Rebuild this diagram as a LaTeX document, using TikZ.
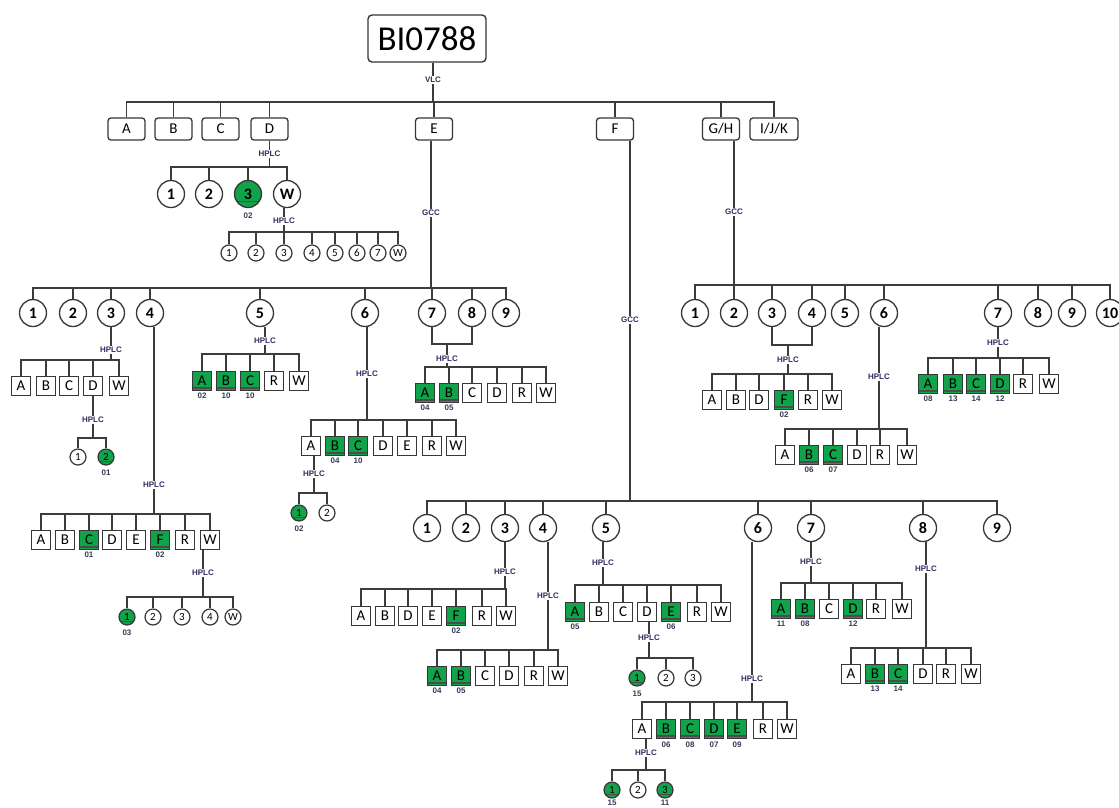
\documentclass[tikz,border=0pt]{standalone}
\usepackage{fontspec}
\setmainfont{Carlito}
\newfontfamily\tagfamily{Liberation Sans}
\definecolor{grn}{RGB}{16,163,74}
\definecolor{linec}{RGB}{60,60,60}
\definecolor{boxc}{RGB}{55,55,55}
\definecolor{labc}{RGB}{50,45,95}
\definecolor{numc}{RGB}{55,60,85}
\tikzset{
 conn/.style={draw=linec,line width=1.3pt},
 rootbox/.style={draw=boxc,line width=1.4pt,rounded corners=4pt,fill=white,minimum width=118pt,minimum height=47pt,inner sep=0pt,font=\fontsize{35}{35}\selectfont},
 topbox/.style={draw=boxc,line width=1.3pt,rounded corners=3pt,fill=white,minimum width=37pt,minimum height=22pt,inner sep=0pt,font=\fontsize{15}{15}\selectfont},
 wb/.style={draw=boxc,line width=1.4pt,fill=white,minimum width=19pt,minimum height=19pt,inner sep=0pt,font=\fontsize{15}{15}\selectfont},
 gb/.style={wb,fill=grn,path picture={\draw[line width=1.1pt,draw=black!70] ([yshift=2.5pt]path picture bounding box.south west) -- ([yshift=2.5pt]path picture bounding box.south east);},label={[num,label distance=1.5pt]below:#1}},
 bc/.style={circle,draw=boxc,line width=1.3pt,fill=white,minimum size=27pt,inner sep=0pt,font=\fontsize{16}{16}\selectfont\bfseries},
 gbc/.style={bc,fill=grn,path picture={\draw[line width=1.1pt,draw=black!70] ([xshift=-20pt,yshift=-7.5pt]path picture bounding box.center) -- ([xshift=20pt,yshift=-7.5pt]path picture bounding box.center);},label={[num,label distance=4pt]below:#1}},
 sc/.style={circle,draw=boxc,line width=1.2pt,fill=white,minimum size=16pt,inner sep=0pt,font=\fontsize{11}{11}\selectfont},
 gsc/.style={sc,fill=grn,path picture={\draw[line width=1pt,draw=black!70] ([xshift=-12pt,yshift=-4.5pt]path picture bounding box.center) -- ([xshift=12pt,yshift=-4.5pt]path picture bounding box.center);},label={[num,label distance=4pt]below:#1}},
 gscb/.style={sc,fill=grn,path picture={\draw[line width=1pt,draw=black!70] ([xshift=-12pt,yshift=-4.5pt]path picture bounding box.center) -- ([xshift=12pt,yshift=-4.5pt]path picture bounding box.center);},label={[num,label distance=0.5pt]below:#1}},
 lab/.style={font=\tagfamily\bfseries\fontsize{8}{8}\selectfont,text=labc,fill=white,inner sep=1pt},
 num/.style={font=\tagfamily\bfseries\fontsize{8}{8}\selectfont,text=numc,inner sep=0.5pt},
}
% #1 parent point, #2 prefix, #3 label y, #4 label, #5 bus y, #6 child y, #7 list x/text/style
\newcommand\kids[7]{%
  \coordinate (#2bus) at (0,#5);
  \coordinate (#2ly) at (0,#3);
  \foreach \cx/\ct/\cs [count=\ci] in {#7} {
    \edef\mknode{\noexpand\node[\cs] (#2k\ci) at (\cx,#6) {\ct};}
    \mknode
    \draw[conn] (#1) -- (#1 |- #2bus) -| (#2k\ci.north);
  }
  \node[lab] (#2lab) at (#1 |- #2ly) {#4};
}
\begin{document}
\begin{tikzpicture}[x=1pt,y=-1pt]
\fill[white] (0,0) rectangle (1119,807);
\useasboundingbox (0,0) rectangle (1119,807);

% root and first level
\node[rootbox] (bi) at (427,38.5) {BI0788};
\node[topbox] (ta) at (126.5,129) {A};
\node[topbox] (tb) at (173.5,129) {B};
\node[topbox] (tc) at (220.5,129) {C};
\node[topbox] (td) at (269.5,129) {D};
\node[topbox] (te) at (434,129) {E};
\node[topbox] (tf) at (615,129) {F};
\node[topbox] (tgh) at (721,129) {G/H};
\node[topbox,minimum width=48pt] (tijk) at (774,129) {I/J/K};
\coordinate (topbus) at (0,102);
\coordinate (rootP) at ([xshift=6pt]bi.south);
\foreach \n in {ta,tb,tc,td,te,tf,tgh,tijk} \draw[conn] (rootP) -- (rootP |- topbus) -| (\n.north);
\node[lab] (vlc) at (433,80) {VLC};

% D branch
\kids{td.south}{td}{154}{HPLC}{167}{194}{171/1/bc, 209/2/bc, 248/3/gbc=02, 287/W/bc}
\coordinate (tdk4P) at ([xshift=-3pt]tdk4.south);
\kids{tdk4P}{tdk4}{221}{HPLC}{232}{253}{229/1/sc, 256/2/sc, 284/3/sc, 312/4/sc, 335/5/sc, 357/6/sc, 378/7/sc, 398/W/sc}

% E branch
\coordinate (teP) at ([xshift=-3pt]te.south);
\kids{teP}{te}{213}{GCC}{288}{313}{33/1/bc, 73/2/bc, 111/3/bc, 150/4/bc, 260/5/bc, 365/6/bc, 432/7/bc, 472/8/bc, 506/9/bc}
\kids{tek3.south}{tek3}{350}{HPLC}{360}{386}{21/A/wb, 46/B/wb, 69/C/wb, 93/D/wb, 119/W/wb}
\kids{tek3k4.south}{tek3k4}{420}{HPLC}{438}{457}{78/1/sc, 106/2/gsc=01}
\coordinate (tek4P) at ([xshift=4pt]tek4.south);
\kids{tek4P}{tek4}{485}{HPLC}{514}{540}{41/A/wb, 65/B/wb, 89/C/gb=01, 112/D/wb, 136/E/wb, 160/F/gb=02, 185/R/wb, 210/W/wb}
\coordinate (tek4k8P) at ([xshift=-7pt]tek4k8.south);
\kids{tek4k8P}{tek4k8}{573}{HPLC}{597}{617}{127/1/gsc=03, 153/2/sc, 182/3/sc, 210/4/sc, 233/W/sc}
\coordinate (tek5P) at ([xshift=5pt]tek5.south);
\kids{tek5P}{tek5}{341}{HPLC}{354}{381}{202/A/gb=02, 226/B/gb=10, 250/C/gb=10, 274/R/wb, 299/W/wb}
\coordinate (tek6P) at ([xshift=2pt]tek6.south);
\kids{tek6P}{tek6}{374}{HPLC}{420}{446}{311/A/wb, 335/B/gb=04, 358/C/gb=10, 383/D/wb, 407/E/wb, 432/R/wb, 456/W/wb}
\coordinate (tek6k1P) at ([xshift=3pt]tek6k1.south);
\kids{tek6k1P}{tek6k1}{474}{HPLC}{493}{513}{299/1/gsc=02, 327/2/sc}
\coordinate (e78) at (447,344);
\draw[conn] (tek7.south) |- (e78) -| (tek8.south);
\kids{e78}{e78}{359}{HPLC}{367}{393}{425/A/gb=04, 449/B/gb=05, 472/C/wb, 497/D/wb, 522/R/wb, 546/W/wb}

% F branch
\coordinate (tfP) at ([xshift=15pt]tf.south);
\kids{tfP}{tf}{320}{GCC}{501}{528}{427/1/bc, 466/2/bc, 505/3/bc, 543/4/bc, 606/5/bc, 758/6/bc, 811/7/bc, 923/8/bc, 997/9/bc}
\kids{tfk3.south}{tfk3}{572}{HPLC}{589}{616}{361/A/wb, 385/B/wb, 408/D/wb, 432/E/wb, 456/F/gb=02, 482/R/wb, 506/W/wb}
\coordinate (tfk4P) at ([xshift=5pt]tfk4.south);
\kids{tfk4P}{tfk4}{596}{HPLC}{650}{676}{437/A/gb=04, 461/B/gb=05, 485/C/wb, 509/D/wb, 534/R/wb, 558/W/wb}
\coordinate (tfk5P) at ([xshift=-3pt]tfk5.south);
\kids{tfk5P}{tfk5}{563}{HPLC}{585}{612}{575/A/gb=05, 599/B/wb, 623/C/wb, 647/D/wb, 671/E/gb=06, 697/R/wb, 721/W/wb}
\coordinate (tfk5k4P) at ([xshift=2pt]tfk5k4.south);
\kids{tfk5k4P}{tfk5k4}{638}{HPLC}{658}{678}{637/1/gsc=15, 666/2/sc, 693/3/sc}
\coordinate (tfk6P) at ([xshift=-6pt]tfk6.south);
\kids{tfk6P}{tfk6}{679}{HPLC}{702}{729}{642/A/wb, 666/B/gb=06, 690/C/gb=08, 714/D/gb=07, 737/E/gb=09, 763/R/wb, 787/W/wb}
\coordinate (tfk6k1P) at ([xshift=4pt]tfk6k1.south);
\kids{tfk6k1P}{tfk6k1}{753}{HPLC}{770}{790}{612/1/gscb=15, 638/2/sc, 665/3/gscb=11}
\kids{tfk7.south}{tfk7}{562}{HPLC}{583}{609}{781/A/gb=11, 805/B/gb=08, 829/C/wb, 853/D/gb=12, 876/R/wb, 902/W/wb}
\coordinate (tfk8P) at ([xshift=3pt]tfk8.south);
\kids{tfk8P}{tfk8}{569}{HPLC}{648}{674}{851/A/wb, 875/B/gb=13, 898/C/gb=14, 923/D/wb, 946/R/wb, 971/W/wb}

% G/H branch
\coordinate (tghP) at ([xshift=13pt]tgh.south);
\kids{tghP}{tgh}{212}{GCC}{285}{313}{695/1/bc, 734/2/bc, 772/3/bc, 812/4/bc, 845/5/bc, 884/6/bc, 998/7/bc, 1038/8/bc, 1072/9/bc, 1110/10/bc}
\coordinate (g34) at (788,345);
\draw[conn] (tghk3.south) |- (g34) -| (tghk4.south);
\kids{g34}{g34}{360}{HPLC}{374}{400}{712/A/wb, 736/B/wb, 759/D/wb, 784/F/gb=02, 808/R/wb, 832/W/wb}
\coordinate (tghk6P) at ([xshift=-5pt]tghk6.south);
\kids{tghk6P}{tghk6}{377}{HPLC}{429}{455}{785/A/wb, 809/B/gb=06, 833/C/gb=07, 857/D/wb, 880/R/wb, 907/W/wb}
\kids{tghk7.south}{tghk7}{343}{HPLC}{358}{384}{928/A/gb=08, 953/B/gb=13, 976/C/gb=14, 1000/D/gb=12, 1023/R/wb, 1049/W/wb}
\end{tikzpicture}
\end{document}
